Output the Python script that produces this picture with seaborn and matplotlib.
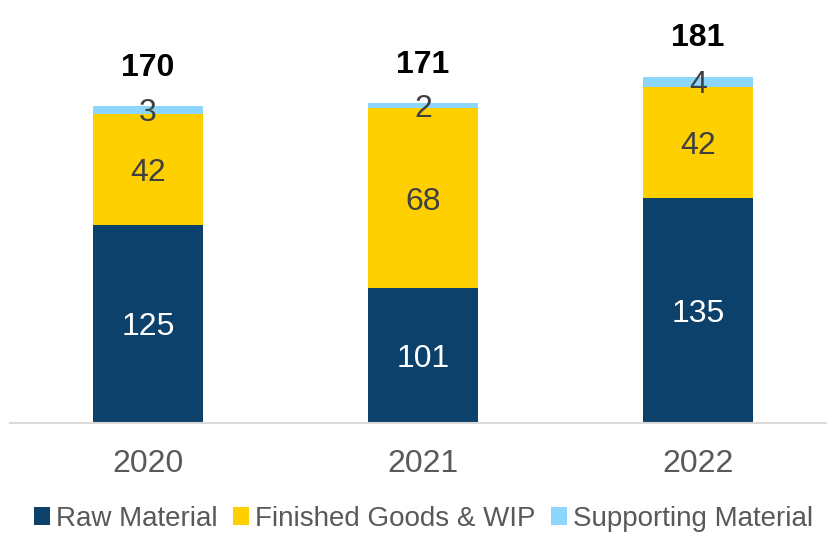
import matplotlib
matplotlib.use("Agg")
import matplotlib.pyplot as plt
import seaborn as sns
import pandas as pd
import numpy as np
from matplotlib.patches import Patch

years = ["2020", "2021", "2022"]
raw_material = [125, 101, 135]
finished_goods = [42, 68, 42]
supporting = [3, 2, 4]
totals = [170, 171, 181]
series_names = ["Raw Material", "Finished Goods & WIP", "Supporting Material"]

colors = ["#0B416B", "#FFD000", "#8BD6FA"]

sns.set_theme(style="white")
plt.rcParams['font.family'] = ['Liberation Sans', 'DejaVu Sans']

fig = plt.figure(figsize=(8.27, 5.35), dpi=100)
ax = fig.add_axes([10 / 827, 1 - 422.5 / 535, 1 - 10 / 827, 422.5 / 535])

raw = np.array(raw_material)
fg = np.array(finished_goods)
sp = np.array(supporting)

df = pd.DataFrame({"year": years, "raw": raw, "fg": fg, "sp": sp})
bottoms = {"raw": np.zeros(3), "fg": raw, "sp": raw + fg}
for col, c in zip(["raw", "fg", "sp"], colors):
    sns.barplot(data=df, x="year", y=col, color=c, width=0.4, bottom=bottoms[col],
                saturation=1, ax=ax, linewidth=0, errorbar=None)

ax.set_ylim(50, 50 + 422.5 / 2.64)
ax.set_xlim(-0.502, 2.47)

# segment labels
for i in range(3):
    ax.text(i, (50 + raw[i]) / 2, str(raw[i]), ha="center", va="center_baseline",
            fontsize=23, color="white")
    ax.text(i, raw[i] + fg[i] / 2, str(fg[i]), ha="center", va="center_baseline",
            fontsize=23, color="#404040")
    ax.text(i, raw[i] + fg[i] + sp[i] / 2, str(sp[i]), ha="center", va="center_baseline",
            fontsize=23, color="#404040")
    ax.annotate(str(totals[i]), xy=(i, raw[i] + fg[i] + sp[i]), xytext=(0, 30),
                textcoords="offset points", ha="center", va="center_baseline",
                fontsize=23, fontweight="bold", color="black")

ax.set_xlabel("")
ax.set_ylabel("")
ax.set_yticks([])
ax.tick_params(axis="x", length=0, labelsize=23, labelcolor="#595959", pad=19)
for s in ["top", "right", "left"]:
    ax.spines[s].set_visible(False)
ax.spines["bottom"].set_color("#D9D9D9")
ax.spines["bottom"].set_linewidth(1.5)

handles = [Patch(facecolor=c, edgecolor="none") for c in colors]
fig.legend(handles, series_names, loc="center", bbox_to_anchor=(0.512, 1 - 519 / 535),
           ncol=3, frameon=False, fontsize=20, handlelength=0.6, handleheight=0.6,
           handletextpad=0.2, columnspacing=0.55, labelcolor="#595959")

fig.savefig("out.png", dpi=100)
